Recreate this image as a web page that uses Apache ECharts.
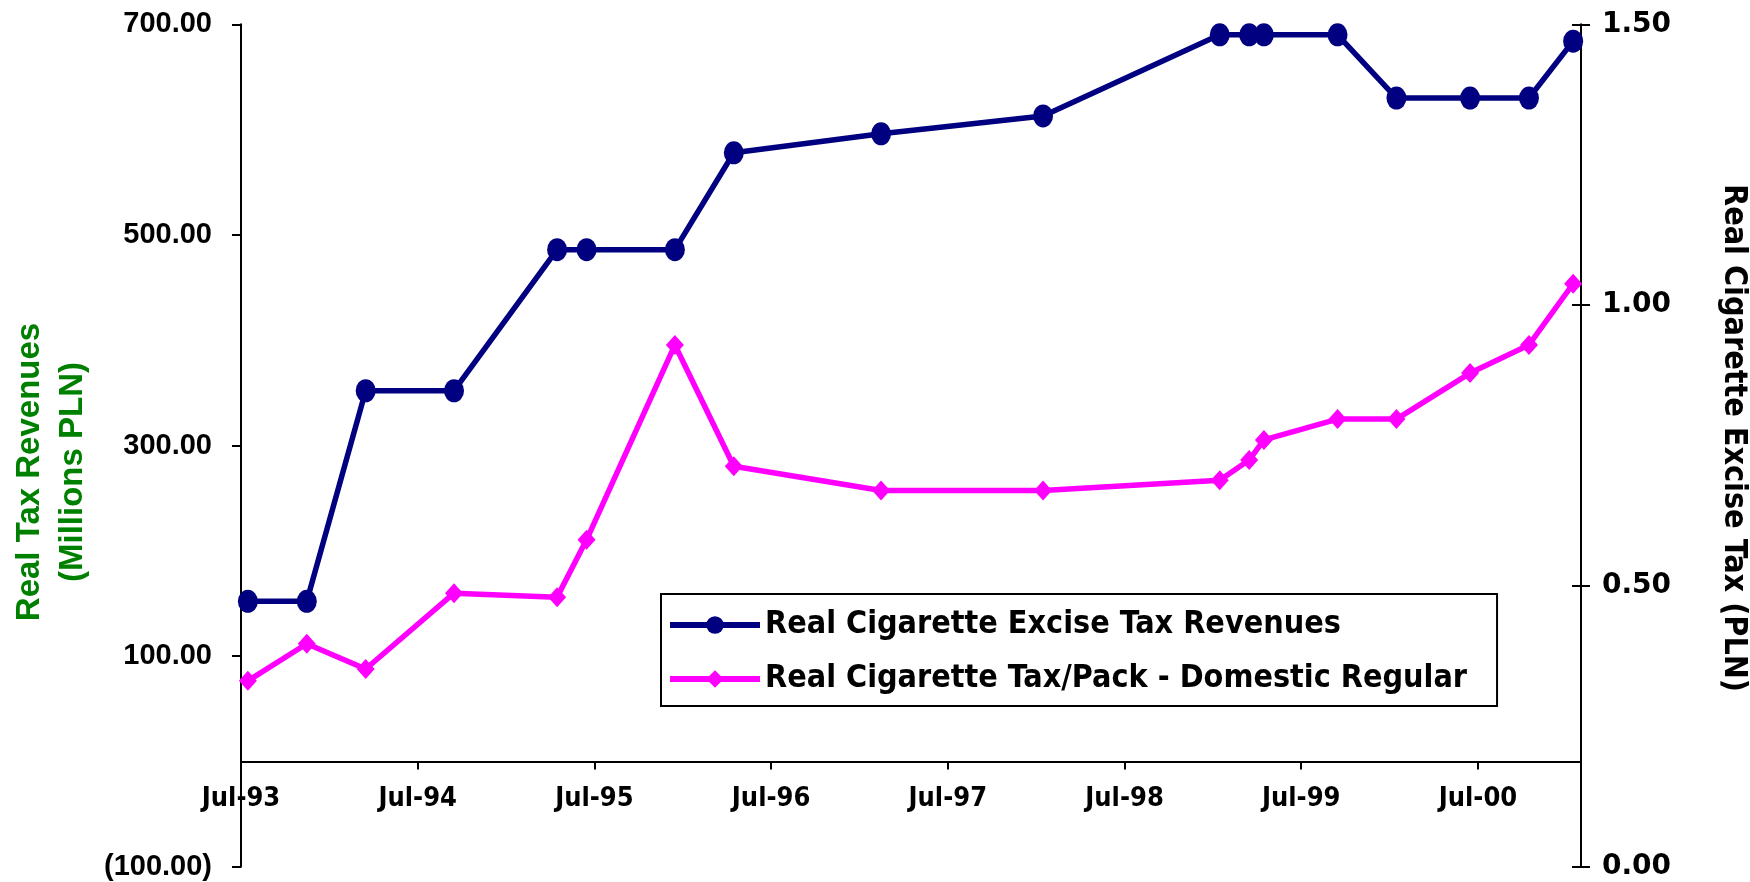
<!DOCTYPE html>
<html>
<head>
<meta charset="utf-8">
<script src="https://cdn.jsdelivr.net/npm/echarts@6/dist/echarts.min.js"></script>
<style>
html,body{margin:0;padding:0;background:#fff;}
#chart{width:1750px;height:882px;}
</style>
</head>
<body>
<div id="chart"></div>
<script>
const dates = ['1993-07-15','1993-11-15','1994-03-15','1994-09-15','1995-04-15','1995-06-15',
  '1995-12-15','1996-04-15','1997-02-15','1998-01-15','1999-01-15','1999-03-15',
  '1999-04-15','1999-09-15','2000-01-15','2000-06-15','2000-10-15','2001-01-15'];
// Real Cigarette Excise Tax Revenues (Millions PLN) - left axis
const revenues = [152, 152, 352, 352, 486, 486, 486, 578, 596, 613, 690, 690, 690, 690, 630, 630, 630, 684];
// Real Cigarette Tax/Pack - Domestic Regular (PLN) - right axis
const taxPerPack = [0.331, 0.397, 0.352, 0.487, 0.480, 0.582, 0.929, 0.713, 0.670, 0.670, 0.688, 0.724, 0.760, 0.797, 0.797, 0.879, 0.929, 1.038];
// x-axis tick labels (every July)
const xTickLabels = ['Jul-93','Jul-94','Jul-95','Jul-96','Jul-97','Jul-98','Jul-99','Jul-00'];
const seriesNames = ['Real Cigarette Excise Tax Revenues', 'Real Cigarette Tax/Pack - Domestic Regular'];

// months since Jul-1993
function monthIndex(s){
  const p = s.split('-').map(Number);
  return (p[0]-1993)*12 + (p[1]-7) + (p[2]-1)/30;
}
const xs = dates.map(monthIndex);
const revData = xs.map((x,i)=>[x, revenues[i]]);
const packData = xs.map((x,i)=>[x, taxPerPack[i]]);

const NARROW = '"Liberation Sans Narrow","Arial Narrow","DejaVu Sans Condensed","Liberation Sans",sans-serif';
const WIDE = '"Liberation Sans",Arial,sans-serif';

const GRID_TOP = 24.3, GRID_BOTTOM = 15.3, CH = 882;
const plotH = CH - GRID_TOP - GRID_BOTTOM;
// distance from the grid bottom (-100) up to the zero line of the left axis
const zeroOffset = plotH * (0 - (-100)) / (700 - (-100));

const chart = echarts.init(document.getElementById('chart'), null, {renderer:'canvas'});
chart.setOption({
  animation:false,
  backgroundColor:'#ffffff',
  grid:{left:241, right:169, top:GRID_TOP, bottom:GRID_BOTTOM, containLabel:false, outerBoundsMode:'none'},
  legend:{
    orient:'vertical',
    left:661, top:594,
    padding:[15,30,11,6],
    itemGap:22,
    itemWidth:90, itemHeight:22,
    borderColor:'#000', borderWidth:2,
    backgroundColor:'#fff',
    lineStyle:{width:6},
    textStyle:{fontFamily:NARROW, fontWeight:'bold', fontSize:32, color:'#000'},
    data: seriesNames
  },
  xAxis:{
    type:'value', min:0, max:91, interval:12,
    offset:-zeroOffset,
    axisLine:{show:true, onZero:false, lineStyle:{color:'#000', width:2}},
    axisTick:{show:true, inside:false, length:8, lineStyle:{color:'#000', width:2}},
    axisLabel:{margin:24, fontFamily:NARROW, fontWeight:'bold', fontSize:27, color:'#000',
      showMaxLabel:false,
      formatter:function(v){ const k = Math.round(v/12); return (Math.abs(v-k*12)<1e-6 && xTickLabels[k]) ? xTickLabels[k] : ''; }},
    splitLine:{show:false}
  },
  yAxis:[
    {type:'value', position:'left', min:-100, max:700, interval:200,
     axisLine:{show:true, lineStyle:{color:'#000', width:2}},
     axisTick:{show:true, inside:false, length:9, lineStyle:{color:'#000', width:2}},
     axisLabel:{margin:29, fontFamily:WIDE, fontWeight:'bold', fontSize:29, color:'#000',
       formatter:function(v){ return v<0 ? '('+Math.abs(v).toFixed(2)+')' : v.toFixed(2); }},
     splitLine:{show:false}},
    {type:'value', position:'right', min:0, max:1.5, interval:0.5,
     axisLine:{show:true, lineStyle:{color:'#000', width:2}},
     axisTick:{show:true, inside:false, length:9, lineStyle:{color:'#000', width:2}},
     axisLabel:{margin:21, fontFamily:'"DejaVu Sans",sans-serif', fontWeight:'bold', fontSize:28, color:'#000',
       formatter:function(v){ return v.toFixed(2); }},
     splitLine:{show:false}},
    {type:'value', position:'right', min:0, max:1.5, interval:0.5,
     axisLine:{show:false},
     axisTick:{show:true, inside:true, length:9, lineStyle:{color:'#000', width:2}},
     axisLabel:{show:false},
     splitLine:{show:false}}
  ],
  graphic:[
    {type:'text', x:30, y:472, rotation:Math.PI/2,
     style:{text:'Real Tax Revenues', fill:'#008000', font:'bold 33px "Liberation Sans", Arial, sans-serif', textAlign:'center', textVerticalAlign:'middle'}},
    {type:'text', x:73, y:472, rotation:Math.PI/2,
     style:{text:'(Millions PLN)', fill:'#008000', font:'bold 33px "Liberation Sans", Arial, sans-serif', textAlign:'center', textVerticalAlign:'middle'}},
    {type:'text', x:1733, y:438, rotation:-Math.PI/2,
     style:{text:'Real Cigarette Excise Tax (PLN)', fill:'#000', font:'bold 32px "Liberation Sans Narrow","Arial Narrow","DejaVu Sans Condensed","Liberation Sans",sans-serif', textAlign:'center', textVerticalAlign:'middle'}}
  ],
  series:[
    {name:seriesNames[0], type:'line', yAxisIndex:0, data:revData,
     symbol:'circle', symbolSize:[20,23], showAllSymbol:true,
     lineStyle:{color:'#000080', width:5.5},
     itemStyle:{color:'#000080'}, z:3},
    {name:seriesNames[1], type:'line', yAxisIndex:1, data:packData,
     symbol:'diamond', symbolSize:[18,20], showAllSymbol:true,
     lineStyle:{color:'#ff00ff', width:5.5},
     itemStyle:{color:'#ff00ff'}, z:2}
  ]
});
</script>
</body>
</html>
